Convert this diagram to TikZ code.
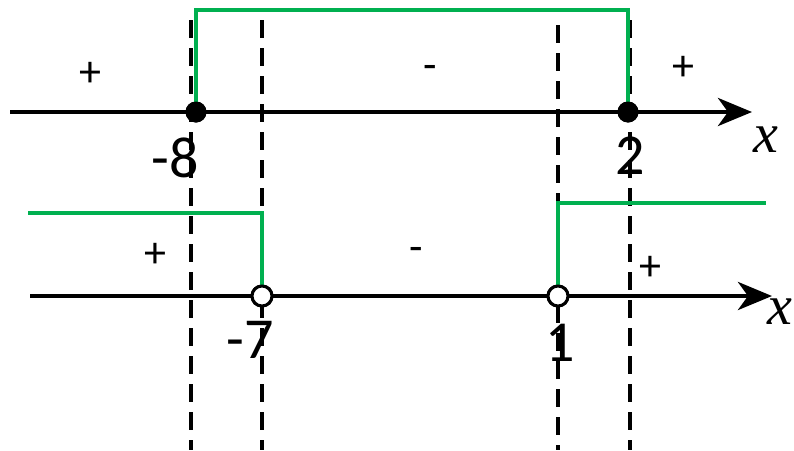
\documentclass[tikz,border=0pt]{standalone}
\usepackage{fontspec}
\setmainfont{Carlito}
\newfontfamily\varfont{Liberation Serif}
\usetikzlibrary{arrows.meta}
\definecolor{signgr}{RGB}{0,176,80}

\begin{document}
\begin{tikzpicture}[x=1pt, y=-1pt,
    >={Stealth[length=34pt, width=28pt, inset=10pt]},
    axis/.style={->, line width=4.5pt},
    guide/.style={line width=3.5pt, dash pattern=on 18pt off 10pt},
    sgn/.style={signgr, line width=4.5pt},
    fdot/.style={circle, fill=black, minimum size=21pt, inner sep=0pt},
    odot/.style={circle, draw, line width=3pt, fill=white, minimum size=20pt, inner sep=0pt},
    num/.style={font=\fontsize{58}{58}\selectfont, inner sep=0pt},
    pm/.style={font=\fontsize{44}{44}\selectfont, inner sep=0pt},
    var/.style={font=\varfont\fontsize{56}{56}\selectfont\itshape, inner sep=0pt},
]
\useasboundingbox (0,0) rectangle (794,450);

% axes
\coordinate (a1L) at (10,112);
\coordinate (a1R) at (752,112);
\coordinate (a2L) at (30,296);
\coordinate (a2R) at (772,296);

% points
\node[fdot] (m8) at (196,112) {};
\node[fdot] (p2) at (628,112) {};
\node[odot] (m7) at (262,296) {};
\node[odot] (p1) at (558,296) {};

% dashed guides
\coordinate (g1) at (191,20);
\coordinate (g2) at (262,20);
\coordinate (g3) at (558,25);
\coordinate (g4) at (630,20);
\foreach \g in {g1,g2,g3,g4}
    \draw[guide] (\g) -- (\g |- 0,450);

\draw[axis] (a1L) -- (a1R);
\draw[axis] (a2L) -- (a2R);

% sign graphs
\draw[sgn] (m8.center) -- ++(0,-102) -| (p2.center);
\coordinate (s2L) at (28,213);
\draw[sgn] (s2L) -| (m7.north);
\coordinate (s3R) at (766,203);
\draw[sgn] (p1.north) |- (s3R);

% redraw points on top
\node[fdot] at (m8) {};
\node[fdot] at (p2) {};
\node[odot] at (m7) {};
\node[odot] at (p1) {};

% labels
\node[num] (lm8) at (175,158) {-8};
\node[num] (lp2) at (630,156) {2};
\node[var] (x1) at (766,140) {x};
\node[num] (lm7) at (250,340) {-7};
\node[num] (lp1) at (560,343) {1};
\node[var] (x2) at (780,312) {x};

\node[pm] (s1) at (90,74) {+};
\node[pm] (s2) at (430,72) {-};
\node[pm] (s3) at (683,68) {+};
\node[pm] (s4) at (155,255) {+};
\node[pm] (s5) at (416,254) {-};
\node[pm] (s6) at (650,268) {+};
\end{tikzpicture}
\end{document}
